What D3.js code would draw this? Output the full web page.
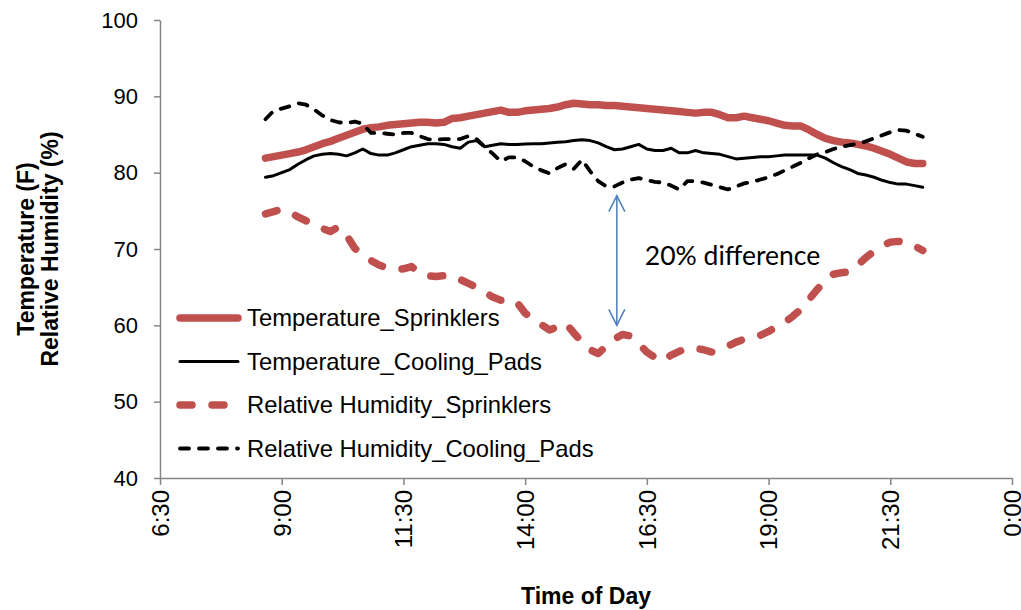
<!DOCTYPE html>
<head>
  <meta charset="utf-8">
  <script src="https://d3js.org/d3.v7.min.js"></script>
  <style>
    body { margin: 0; background: #fff; }
    svg text { font-family: "Liberation Sans", Arial, sans-serif; fill: #000; }
    .axis path, .axis line { stroke: #868686; stroke-width: 1.5px; }
    .axis text { font-size: 22px; }
    .xaxis text { font-size: 24px; }
    .title { font-size: 23px; font-weight: bold; }
    .legend text { font-size: 23.8px; }
    .note { font-family: Lato, "Open Sans", sans-serif !important; font-size: 26.5px; }
  </style>
</head>
<body>
<script>
// sample times, every 10 minutes
var times = [
  "8:40","8:50",
  "9:00","9:10","9:20","9:30","9:40","9:50",
  "10:00","10:10","10:20","10:30","10:40","10:50",
  "11:00","11:10","11:20","11:30","11:40","11:50",
  "12:00","12:10","12:20","12:30","12:40","12:50",
  "13:00","13:10","13:20","13:30","13:40","13:50",
  "14:00","14:10","14:20","14:30","14:40","14:50",
  "15:00","15:10","15:20","15:30","15:40","15:50",
  "16:00","16:10","16:20","16:30","16:40","16:50",
  "17:00","17:10","17:20","17:30","17:40","17:50",
  "18:00","18:10","18:20","18:30","18:40","18:50",
  "19:00","19:10","19:20","19:30","19:40","19:50",
  "20:00","20:10","20:20","20:30","20:40","20:50",
  "21:00","21:10","21:20","21:30","21:40","21:50",
  "22:00","22:10"
];

var tempSprinklers = [
  81.9,82.1,82.3,82.5,82.7,83.0,83.4,83.8,84.1,84.5,
  84.9,85.3,85.7,85.9,86.0,86.2,86.3,86.4,86.5,86.6,
  86.6,86.5,86.6,87.1,87.2,87.4,87.6,87.8,88.0,88.2,
  87.9,87.9,88.1,88.2,88.3,88.4,88.6,88.9,89.1,89.0,
  88.9,88.9,88.8,88.8,88.7,88.6,88.5,88.4,88.3,88.2,
  88.1,88.0,87.9,87.8,87.9,87.9,87.6,87.2,87.2,87.4,
  87.2,87.0,86.8,86.5,86.2,86.1,86.1,85.6,85.0,84.5,
  84.2,84.0,83.9,83.7,83.5,83.2,82.8,82.4,81.9,81.4,
  81.2,81.2
];

var tempPads = [
  79.4,79.6,80.0,80.4,81.1,81.7,82.2,82.4,82.5,82.4,
  82.2,82.6,83.1,82.5,82.3,82.3,82.6,83.0,83.4,83.6,
  83.8,83.8,83.7,83.4,83.2,84.0,84.2,83.4,83.6,83.8,
  83.7,83.7,83.75,83.8,83.8,83.9,84.0,84.05,84.2,84.3,
  84.2,83.9,83.4,83.0,83.1,83.4,83.7,83.1,82.9,82.9,
  83.2,82.6,82.6,82.9,82.6,82.5,82.4,82.1,81.8,81.9,
  82.0,82.1,82.1,82.2,82.3,82.3,82.3,82.3,82.3,81.9,
  81.3,80.8,80.4,79.9,79.7,79.4,79.0,78.7,78.5,78.5,
  78.3,78.1
];

var rhSprinklers = [
  74.6,74.9,75.2,74.8,74.2,73.7,73.2,72.7,72.3,72.9,
  71.8,70.1,69.2,68.5,67.9,67.5,67.3,67.4,67.7,66.8,
  66.5,66.4,66.5,66.5,66.0,65.5,65.0,64.4,63.7,63.3,
  63.4,63.0,61.6,60.8,60.1,59.4,59.8,60.3,59.0,57.8,
  56.8,56.3,57.3,58.2,58.8,58.6,57.6,56.5,55.8,55.3,
  56.1,56.6,57.0,57.0,56.8,56.5,56.9,57.3,57.8,58.2,
  58.4,58.7,59.2,59.8,60.4,61.2,62.1,63.4,64.7,65.9,
  66.7,66.9,67.0,67.9,68.9,69.7,70.4,70.9,71.0,70.9,
  70.4,69.8
];

var rhPads = [
  87.0,88.1,88.4,88.7,89.1,88.9,88.3,87.5,86.9,86.6,
  86.5,86.7,86.4,85.2,85.2,85.1,85.0,85.2,85.2,84.8,
  84.4,84.3,84.4,84.4,84.4,84.8,84.4,83.4,82.5,81.5,
  82.0,82.0,81.5,80.8,80.3,79.9,80.6,81.1,80.5,81.7,
  80.2,78.9,78.2,78.2,78.7,79.1,79.3,79.0,78.8,78.7,
  78.3,77.8,78.9,78.9,78.7,78.4,78.1,77.8,78.2,78.6,
  78.8,79.1,79.4,79.8,80.3,80.8,81.3,81.9,82.4,82.7,
  83.1,83.4,83.6,83.8,84.1,84.5,84.9,85.3,85.6,85.5,
  85.1,84.7
];

var xTickLabels = ["6:30","9:00","11:30","14:00","16:30","19:00","21:30","0:00"];
var yTicks = [40, 50, 60, 70, 80, 90, 100];

var seriesNames = [
  "Temperature_Sprinklers",
  "Temperature_Cooling_Pads",
  "Relative Humidity_Sprinklers",
  "Relative Humidity_Cooling_Pads"
];

// annotation: arrow between the two RH curves
var noteTime = "15:53", noteFrom = 60, noteTo = 77;
var noteText = "20% difference";

function toMin(s) {
  var p = s.split(":");
  var m = +p[0] * 60 + +p[1];
  return m === 0 ? 1440 : m;
}

var width = 1021, height = 610;
var plot = { left: 160, right: 1012, top: 20, bottom: 478 };

var svg = d3.select("body").append("svg")
    .attr("width", width)
    .attr("height", height);

var x = d3.scaleLinear().domain([390, 1440]).range([plot.left, plot.right]);
var y = d3.scaleLinear().domain([40, 100]).range([plot.bottom, plot.top]);

// axes
var xAxis = svg.append("g")
    .attr("class", "axis xaxis")
    .attr("transform", "translate(0," + plot.bottom + ")")
    .call(d3.axisBottom(x)
      .tickValues(xTickLabels.map(toMin))
      .tickFormat(function(d, i) { return xTickLabels[i]; })
      .tickSize(7).tickSizeOuter(0));
xAxis.selectAll("text")
    .attr("transform", "rotate(-90)")
    .attr("text-anchor", "end")
    .attr("x", -12)
    .attr("y", 0)
    .attr("dy", "0.35em");

svg.append("g")
    .attr("class", "axis")
    .attr("transform", "translate(" + plot.left + ",0)")
    .call(d3.axisLeft(y).tickValues(yTicks).tickSize(6).tickPadding(16).tickSizeOuter(0));

// titles
svg.append("text").attr("class", "title")
    .attr("x", (plot.left + plot.right) / 2).attr("y", 604)
    .attr("text-anchor", "middle")
    .text("Time of Day");

var yt = svg.append("text").attr("class", "title")
    .attr("transform", "translate(34," + ((plot.top + plot.bottom) / 2) + ") rotate(-90)")
    .attr("text-anchor", "middle");
yt.append("tspan").attr("x", 0).attr("y", 0).text("Temperature (F)");
yt.append("tspan").attr("x", 0).attr("y", 24).text("Relative Humidity (%)");

// line styles, kept apart from the data
var styles = [
  { color: "#c0504d", width: 7.5, dash: null },
  { color: "#000",    width: 3,   dash: null },
  { color: "#c0504d", width: 7.5, dash: "12,20" },
  { color: "#000",    width: 3.8, dash: "9,10" }
];
var allSeries = [tempSprinklers, tempPads, rhSprinklers, rhPads];

var line = d3.line()
    .x(function(d, i) { return x(toMin(times[i])); })
    .y(function(d) { return y(d); });

allSeries.forEach(function(vals, k) {
  svg.append("path")
      .datum(vals)
      .attr("fill", "none")
      .attr("stroke", styles[k].color)
      .attr("stroke-width", styles[k].width)
      .attr("stroke-linecap", "round")
      .attr("stroke-linejoin", "round")
      .attr("stroke-dasharray", styles[k].dash)
      .attr("d", line);
});

// legend
var legend = svg.append("g").attr("class", "legend");
seriesNames.forEach(function(name, k) {
  var ly = 318 + k * 43.5;
  legend.append("line")
      .attr("x1", 180).attr("x2", 238)
      .attr("y1", ly).attr("y2", ly)
      .attr("stroke", styles[k].color)
      .attr("stroke-width", styles[k].width)
      .attr("stroke-linecap", "round")
      .attr("stroke-dasharray", styles[k].dash);
  legend.append("text")
      .attr("x", 247).attr("y", ly + 8)
      .text(name);
});

// annotation arrow
var ax = x(toMin(noteTime));
var a1 = y(noteTo), a2 = y(noteFrom);
var arrow = svg.append("g")
    .attr("fill", "none")
    .attr("stroke", "#4a7ebb")
    .attr("stroke-width", 1.5);
arrow.append("line").attr("x1", ax).attr("x2", ax).attr("y1", a1).attr("y2", a2);
arrow.append("path").attr("d", "M" + (ax - 8) + "," + (a1 + 16) + "L" + ax + "," + a1 + "L" + (ax + 8) + "," + (a1 + 16));
arrow.append("path").attr("d", "M" + (ax - 8) + "," + (a2 - 16) + "L" + ax + "," + a2 + "L" + (ax + 8) + "," + (a2 - 16));

svg.append("text")
    .attr("class", "note")
    .attr("x", ax + 28)
    .attr("y", (a1 + a2) / 2 + 5)
    .text(noteText);
</script>
</body>
